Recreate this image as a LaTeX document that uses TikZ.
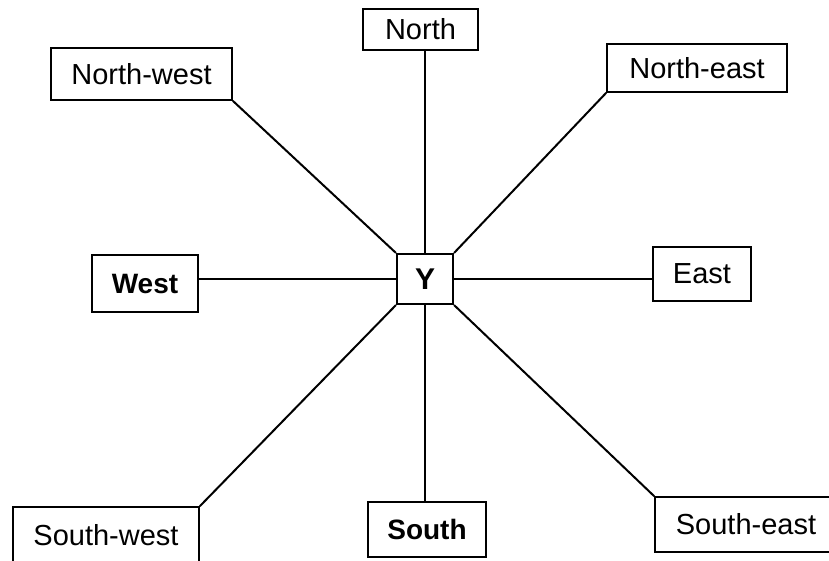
\documentclass[tikz,border=0pt]{standalone}
\usepackage{fontspec}
\setmainfont{Liberation Sans}
\begin{document}
\begin{tikzpicture}[x=1pt,y=-1pt,
  dirbox/.style={draw, line width=1.7pt, inner sep=0pt, rectangle,
    font=\fontsize{29}{32}\selectfont},
  link/.style={line width=2pt}]
\useasboundingbox (0,0) rectangle (829,560);
\fill[white] (0,0) rectangle (829,560);
\node[dirbox, minimum width=115pt, minimum height=41pt] (N) at (420.5,29.5) {North};
\node[dirbox, minimum width=181pt, minimum height=52pt] (NW) at (141.5,74) {North-west};
\node[dirbox, minimum width=180pt, minimum height=48pt] (NE) at (697,68) {North-east};
\node[dirbox, line width=2.2pt, minimum width=106pt, minimum height=57pt, font=\fontsize{28}{30}\selectfont\bfseries] (W) at (145,283.5) {West};
\node[dirbox, line width=2.2pt, minimum width=56pt, minimum height=50pt, font=\fontsize{30}{32}\selectfont\bfseries] (Y) at (425,279) {Y};
\node[dirbox, minimum width=98pt, minimum height=54pt] (E) at (702,274) {East};
\node[dirbox, minimum width=186pt, minimum height=56pt] (SW) at (106,535) {South-west};
\node[dirbox, line width=2.2pt, minimum width=118pt, minimum height=55pt, font=\fontsize{28}{30}\selectfont\bfseries] (S) at (427,529.5) {South};
\node[dirbox, minimum width=182pt, minimum height=55pt] (SE) at (746,524.5) {South-east};
\draw[link] (Y.north) -- (Y.north |- N.south);
\draw[link] (Y.south) -- (Y.south |- S.north);
\draw[link] (Y.west) -- (W.east |- Y.west);
\draw[link] (Y.east) -- (E.west |- Y.east);
\draw[link] (Y.north west) -- (NW.south east);
\draw[link] (Y.north east) -- (NE.south west);
\draw[link] (Y.south west) -- (SW.north east);
\draw[link] (Y.south east) -- (SE.north west);
\end{tikzpicture}
\end{document}
